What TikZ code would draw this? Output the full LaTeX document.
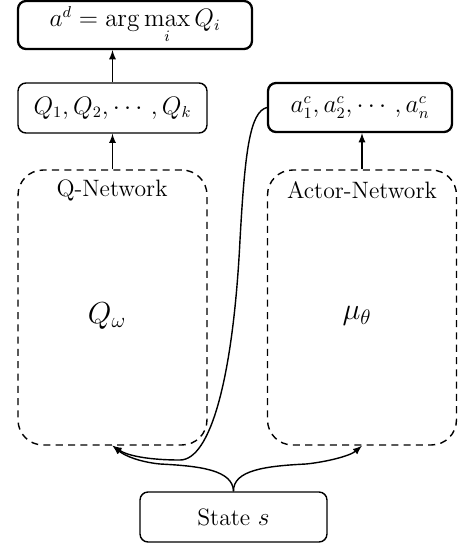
\documentclass[tikz,border=0pt]{standalone}
\usepackage{amsmath}
\usepackage{tikz}
\usetikzlibrary{calc}

\begin{document}
\begin{tikzpicture}[x=0.02cm,y=-0.02cm,>=latex,
	blk/.style={draw,line width=0.8pt,rounded corners=0.16cm,inner sep=0pt,font=\fontsize{13.5}{15}\selectfont},
	bold/.style={line width=1.3pt},
	net/.style={draw,dash pattern=on 4pt off 3pt,line width=0.8pt,rounded corners=0.5cm,inner sep=0pt,minimum width=3.78cm,minimum height=5.5cm},
	lbl/.style={font=\fontsize{13.5}{15}\selectfont},
	sym/.style={font=\fontsize{17}{20}\selectfont}]
	\useasboundingbox (0,0) rectangle (459,545);
	% output boxes
	\node[blk,bold,minimum width=4.68cm,minimum height=0.96cm] (amax) at (135,25) {$a^d=\arg\max\limits_i Q_i$};
	\node[blk,minimum width=3.78cm,minimum height=1cm] (qs) at (112.5,108) {$Q_1,Q_2,\cdots,Q_k$};
	\node[blk,bold,minimum width=3.68cm,minimum height=0.98cm] (ac) at (360,107.5) {$a_1^c,a_2^c,\cdots,a_n^c$};
	% networks
	\node[net] (qnet) at (112.5,307.5) {};
	\node[net] (anet) at (362,307.5) {};
	\node[lbl] (qlbl) at (112,190) {Q-Network};
	\node[lbl] (albl) at (362,190) {Actor-Network};
	\node[sym] (qw) at (107,316) {$Q_\omega$};
	\node[sym] (mu) at (357,316) {$\mu_\theta$};
	% input
	\node[blk,minimum width=3.74cm,minimum height=1cm] (state) at (233.5,517) {State $s$};
	\draw[->,line width=0.8pt] (qnet.north) -- (qs.south);
	\draw[->,line width=0.8pt] (qs.north) -- (qs.north |- amax.south);
	\draw[->,line width=0.8pt] (anet.north) -- (anet.north |- ac.south);
	\draw[->,line width=0.8pt] (state.north) .. controls (233,470) and (200,466) .. (160,464) .. controls (140,462) and (125,456) .. (qnet.south);
	\draw[->,line width=0.8pt] (state.north) .. controls (233,470) and (266,466) .. (306,464) .. controls (326,462) and (350,456) .. (anet.south);
	\draw[->,line width=0.8pt] (ac.west) .. controls (250,112) and (245,150) .. (240,240) .. controls (233,380) and (210,460) .. (180,460) .. controls (150,460) and (128,456) .. (qnet.south);
\end{tikzpicture}
\end{document}
